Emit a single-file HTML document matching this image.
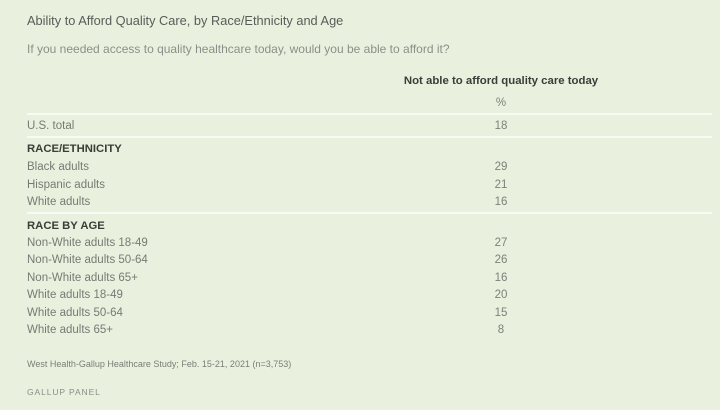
<!DOCTYPE html>
<html>
<head>
<meta charset="utf-8">
<style>
html,body{margin:0;padding:0;}
body{width:720px;height:410px;background:#e9f1de;position:relative;overflow:hidden;font-family:"Liberation Sans",Arial,sans-serif;}
.t{position:absolute;height:20px;line-height:20px;white-space:nowrap;}
.lab{left:27px;font-size:11.5px;color:#777a74;}
.hd{left:27px;font-size:11.3px;font-weight:bold;color:#3a3d38;}
.v{left:461px;width:80px;text-align:center;font-size:11.5px;color:#7d807a;}
.line{position:absolute;left:27px;width:685px;height:2px;background:#f7fbf1;}
</style>
</head>
<body>
<div class="t" style="left:27px;top:11px;font-size:12.8px;color:#5a5c58;">Ability to Afford Quality Care, by Race/Ethnicity and Age</div>
<div class="t" style="left:27px;top:39px;font-size:12px;color:#8c8f89;">If you needed access to quality healthcare today, would you be able to afford it?</div>

<div class="t" style="left:401px;width:200px;text-align:center;top:70.5px;font-size:11.4px;font-weight:bold;color:#3a3d38;">Not able to afford quality care today</div>
<div class="t v" style="top:92.5px;">%</div>

<div class="line" style="top:113px;"></div>
<div class="t lab" style="top:115.5px;">U.S. total</div>
<div class="t v" style="top:115.5px;">18</div>
<div class="line" style="top:136px;"></div>

<div class="t hd" style="top:139px;">RACE/ETHNICITY</div>
<div class="t lab" style="top:157px;">Black adults</div>
<div class="t v" style="top:157px;">29</div>
<div class="t lab" style="top:174.5px;">Hispanic adults</div>
<div class="t v" style="top:174.5px;">21</div>
<div class="t lab" style="top:191.5px;">White adults</div>
<div class="t v" style="top:191.5px;">16</div>
<div class="line" style="top:212px;"></div>

<div class="t hd" style="top:215.5px;">RACE BY AGE</div>
<div class="t lab" style="top:232.5px;">Non-White adults 18-49</div>
<div class="t v" style="top:232.5px;">27</div>
<div class="t lab" style="top:250px;">Non-White adults 50-64</div>
<div class="t v" style="top:250px;">26</div>
<div class="t lab" style="top:267.5px;">Non-White adults 65+</div>
<div class="t v" style="top:267.5px;">16</div>
<div class="t lab" style="top:285px;">White adults 18-49</div>
<div class="t v" style="top:285px;">20</div>
<div class="t lab" style="top:302.5px;">White adults 50-64</div>
<div class="t v" style="top:302.5px;">15</div>
<div class="t lab" style="top:320px;">White adults 65+</div>
<div class="t v" style="top:320px;">8</div>

<div class="t" style="left:27px;top:353.5px;font-size:9px;color:#7a7d77;">West Health-Gallup Healthcare Study; Feb. 15-21, 2021 (n=3,753)</div>
<div class="t" style="left:27px;top:381.5px;font-size:8.5px;letter-spacing:0.9px;color:#8a8d87;">GALLUP PANEL</div>
</body>
</html>
